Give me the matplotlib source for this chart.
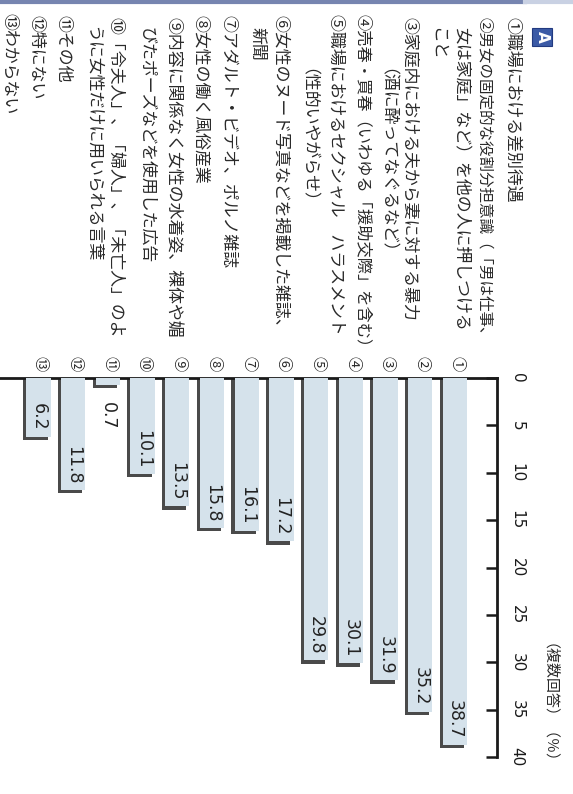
import matplotlib
matplotlib.use("Agg")
import matplotlib.pyplot as plt
from matplotlib.patches import Rectangle
from matplotlib import font_manager
import numpy as np

plt.rcParams['font.family'] = ['Noto Sans CJK JP', 'DejaVu Sans']

# data
item_marks = ['①', '②', '③', '④', '⑤', '⑥', '⑦', '⑧', '⑨', '⑩', '⑪', '⑫', '⑬']
values = [38.7, 35.2, 31.9, 30.1, 29.8, 17.2, 16.1, 15.8, 13.5, 10.1, 0.7, 11.8, 6.2]
value_ticks = [0, 5, 10, 15, 20, 25, 30, 35, 40]
unit_label = '（複数回答）（％）'

# item texts, one list of lines per item
item_lines = [
    ['①職場における差別待遇'],
    ['②男女の固定的な役割分担意識（「男は仕事、', '女は家庭」など）を他の人に押しつける', 'こと'],
    ['③家庭内における夫から妻に対する暴力', '（酒に酔ってなぐるなど）'],
    ['④売春・買春（いわゆる「援助交際」を含む）'],
    ['⑤職場におけるセクシャル　ハラスメント', '（性的いやがらせ）'],
    ['⑥女性のヌード写真などを掲載した雑誌、', '新聞'],
    ['⑦アダルト・ビデオ、ポルノ雑誌'],
    ['⑧女性の働く風俗産業'],
    ['⑨内容に関係なく女性の水着姿、裸体や媚', 'びたポーズなどを使用した広告'],
    ['⑩「令夫人」、「婦人」、「未亡人」のよ', 'うに女性だけに用いられる言葉'],
    ['⑪その他'],
    ['⑫特にない'],
    ['⑬わからない'],
]

W, H = 573, 794
fig = plt.figure(figsize=(W / 100, H / 100), dpi=100)
fig.patch.set_facecolor('white')


def fx(x):
    return x / W


def fy(y):
    return 1 - y / H


def lead_offset(s, size):
    # Agg adds the ink offset of the first glyph without rotating it,
    # so rotated lines starting with a bracket drift sideways; undo that
    try:
        path = font_manager.findfont(font_manager.FontProperties(family='Noto Sans CJK JP'))
        font = font_manager.get_font(path)
        font.set_size(size, 100)
        font.set_text(s, 0.0)
        xo, _ = font.get_bitmap_offset()
        return xo / 64.0
    except Exception:
        return 0.55 * size * 100 / 72 if s.startswith('（') else 0.0


def vtext(xc, ytop, s, size, **kw):
    # rotated text, glyph centre on column xc, starting at ytop (pixels)
    em = size * 100 / 72
    x0 = xc - 0.38 * em - lead_offset(s, size)
    fig.text(fx(x0), fy(ytop), s, rotation=270, rotation_mode='anchor',
             ha='left', va='baseline', fontsize=size, **kw)


# top rule of the page
fig.add_artist(plt.Line2D([0, fx(525)], [fy(2), fy(2)], color='#7685b0', lw=3))
fig.add_artist(plt.Line2D([fx(525), 1], [fy(2), fy(2)], color='#c9d1e3', lw=3))

# "A" badge
fig.add_artist(Rectangle((fx(532), fy(46)), 20 / W, 18 / H, transform=fig.transFigure,
                         facecolor='#3b5aa6', edgecolor='#223a80', lw=0.8))
fig.text(fx(542), fy(37), 'A', rotation=270, ha='center', va='center',
         color='white', fontsize=11, fontweight='bold', family='DejaVu Sans')

# item text columns (rotated, read top to bottom)
col_x = [[515], [485, 463, 442], [412, 391], [365], [338, 312], [283, 260],
         [231], [203], [175, 150], [118, 97], [66], [38], [11.5]]
col_y = [[17], [17, 27, 27], [17, 68], [14], [14, 68], [15, 27],
         [15], [15], [17, 27], [17, 26], [15], [15], [13]]
for lines, xs, ys in zip(item_lines, col_x, col_y):
    for t, x, y in zip(lines, xs, ys):
        size = 11.2 if t.startswith('②') else (11.7 if t.startswith('④') else 12.2)
        vtext(x, y, t, size, color='#2a2a2a')

# chart
ax = fig.add_axes([0, fy(757), fx(497), (757 - 378) / H])
ax.set_facecolor('none')
pos = np.arange(len(values))
ax.bar(pos + 0.09, np.array(values) + 0.38, width=0.7, color='#4a4a4a', zorder=2)
ax.bar(pos, values, width=0.7, color='#d5e2eb', zorder=3)

ax.set_xlim(13.11, -1.21)
ax.set_ylim(40, 0)
ax.set_xticks([])
ax.yaxis.tick_right()
ax.set_yticks(value_ticks)
ax.set_yticklabels([str(v) for v in value_ticks], family='DejaVu Sans', fontsize=11)
ax.tick_params(axis='y', direction='in', length=8, width=1.8, pad=9,
               labelrotation=270, colors='#1a1a1a')
for lab in ax.get_yticklabels():
    lab.set_verticalalignment('center')
for s in ['left', 'bottom']:
    ax.spines[s].set_visible(False)
for s in ['top', 'right']:
    ax.spines[s].set_linewidth(2)
    ax.spines[s].set_color('#1a1a1a')

for p, v, m in zip(pos, values, item_marks):
    if v < 3:
        ax.text(p, v + 1.8, f'{v}', rotation=270, ha='center', va='top',
                fontsize=12.5, family='DejaVu Sans', color='#222222', zorder=4)
    else:
        ax.text(p, v - 0.6, f'{v}', rotation=270, ha='center', va='bottom',
                fontsize=12.5, family='DejaVu Sans', color='#222222', zorder=4)
    ax.text(p - 0.05, -1.5, m, rotation=270, ha='center', va='center',
            fontsize=11, color='#2a2a2a', clip_on=False)

# unit note
vtext(553, 643, unit_label, 10.8, color='#2a2a2a')

fig.savefig('out.png', dpi=100, facecolor='white')
